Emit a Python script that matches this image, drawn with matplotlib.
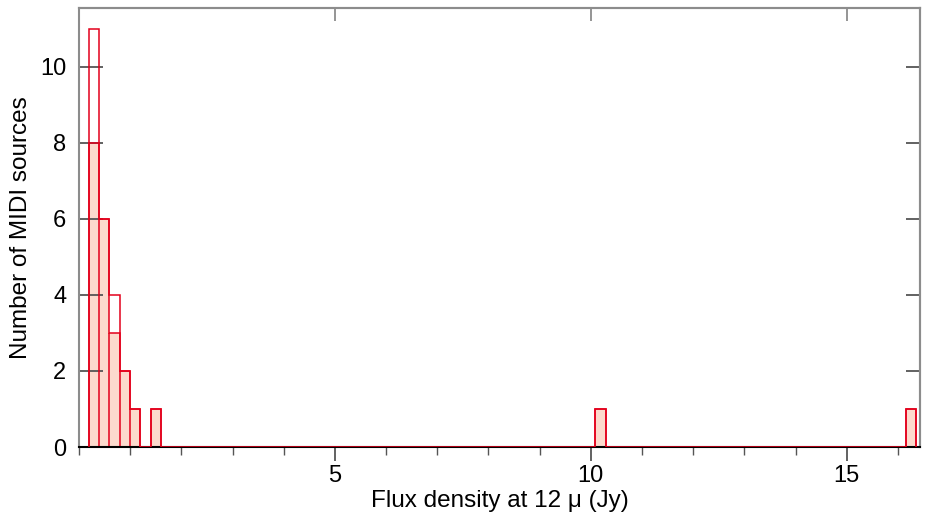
import matplotlib
matplotlib.use("Agg")
import matplotlib.pyplot as plt
import numpy as np
from matplotlib.ticker import MultipleLocator

plt.rcParams["font.family"] = ["Liberation Sans", "DejaVu Sans"]

# histogram binning: 80 bins between the smallest and largest flux
flux_min = 0.19
flux_max = 16.35
n_bins = 80

# non-empty bins (index -> count)
bin_index = [0, 1, 2, 3, 4, 6, 49, 79]
all_counts = [11, 6, 4, 2, 1, 1, 1, 1]
sub_counts = [8, 6, 3, 2, 1, 1, 1, 1]

x_ticks = [5, 10, 15]
y_ticks = [0, 2, 4, 6, 8, 10]

edges = np.linspace(flux_min, flux_max, n_bins + 1)
total = np.zeros(n_bins)
total[bin_index] = all_counts
subset = np.zeros(n_bins)
subset[bin_index] = sub_counts

RED = "#e3001b"
PINK = "#fcdacd"
GREY = "#8c8c8c"
DARK = "#555555"

fig = plt.figure(figsize=(9.25, 5.19), dpi=100)
ax = fig.add_axes([0.0854, 0.1387, 0.9092, 0.8459])

ax.stairs(subset, edges, fill=True, color=PINK, zorder=1)
ax.stairs(subset, edges, color=RED, lw=1.1, zorder=2)
# inner bar dividers for the filled series
ax.vlines(edges[1:-1], 0, np.minimum(subset[:-1], subset[1:]),
          color=RED, lw=1.1, zorder=2)
ax.stairs(total, edges, color=RED, lw=1.1, zorder=3)

ax.set_xlim(0, 16.43)
ax.set_ylim(0, 11.55)

ax.set_xticks(x_ticks)
ax.xaxis.set_minor_locator(MultipleLocator(1))
ax.set_yticks(y_ticks)

ax.tick_params(axis="x", which="major", direction="out", length=10, width=1.3,
               color=DARK, labelsize=17, pad=3)
ax.tick_params(axis="x", which="minor", direction="out", length=6, width=1.0,
               color=DARK)
ax.tick_params(axis="y", which="major", direction="in", length=17, width=1.3,
               color=DARK, labelsize=17, pad=9)

# top axis: major ticks pointing inward
top = ax.secondary_xaxis("top")
top.set_xticks(x_ticks)
top.tick_params(direction="in", length=9, width=1.3, color=GREY,
                labeltop=False)
top.spines["top"].set_color(GREY)
top.spines["top"].set_linewidth(1.5)

# right axis: shorter inward ticks
right = ax.secondary_yaxis("right")
right.set_yticks(y_ticks[1:])
right.tick_params(direction="in", length=10, width=1.3, color=DARK,
                  labelright=False)
right.spines["right"].set_color(GREY)
right.spines["right"].set_linewidth(1.5)

for side in ["left", "top", "right"]:
    ax.spines[side].set_color(GREY)
    ax.spines[side].set_linewidth(1.5)
ax.spines["bottom"].set_color("black")
ax.spines["bottom"].set_linewidth(1.5)

ax.set_xlabel("Flux density at 12 μ (Jy)", fontsize=17.5, labelpad=2)
ax.set_ylabel("Number of MIDI sources", fontsize=17.5, labelpad=6)

fig.savefig("out.png", dpi=100)
